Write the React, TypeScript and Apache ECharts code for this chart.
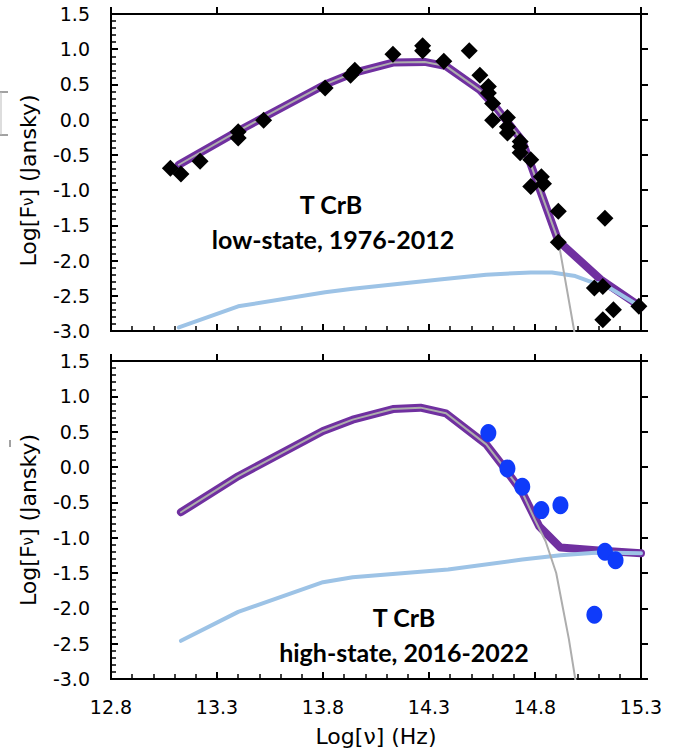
import React, { useEffect, useRef } from "react";
import * as echarts from "echarts";

// ---- axes ----
const xMin = 12.8;
const xMax = 15.3;
const xStep = 0.5;
const yMin = -3.0;
const yMax = 1.5;
const yStep = 0.5;

// ---- top panel: low-state, 1976-2012 ----
const lowObsX = [13.08, 13.13, 13.22, 13.40, 13.40, 13.52, 13.81, 13.93, 13.95, 14.13, 14.27, 14.27, 14.37, 14.49, 14.54, 14.58, 14.58, 14.60, 14.60, 14.67, 14.67, 14.67, 14.73, 14.73, 14.73, 14.78, 14.78, 14.83, 14.84, 14.91, 14.91, 15.13, 15.08, 15.12, 15.12, 15.17, 15.29];
const lowObsY = [-0.69, -0.77, -0.59, -0.17, -0.26, -0.01, 0.45, 0.63, 0.70, 0.93, 1.05, 0.98, 0.83, 0.98, 0.63, 0.47, 0.38, 0.23, -0.01, 0.03, -0.10, -0.19, -0.31, -0.38, -0.47, -0.57, -0.95, -0.81, -0.91, -1.30, -1.74, -1.40, -2.39, -2.37, -2.84, -2.70, -2.65];

const lowTotalX = [13.12, 13.40, 13.81, 13.94, 14.13, 14.28, 14.38, 14.54, 14.62, 14.74, 14.91, 15.11, 15.30];
const lowTotalY = [-0.64, -0.16, 0.50, 0.66, 0.81, 0.82, 0.76, 0.42, 0.16, -0.30, -1.72, -2.27, -2.66];

const lowGiantX = [13.12, 13.40, 13.81, 13.94, 14.13, 14.28, 14.38, 14.54, 14.62, 14.74, 14.91, 14.95, 14.985, 14.99];
const lowGiantY = [-0.64, -0.16, 0.50, 0.66, 0.81, 0.82, 0.76, 0.42, 0.16, -0.30, -1.72, -2.40, -3.0, -3.1];

const lowDiskX = [13.12, 13.40, 13.81, 13.94, 14.35, 14.57, 14.78, 14.88, 14.99, 15.07, 15.12, 15.30];
const lowDiskY = [-2.95, -2.65, -2.45, -2.40, -2.27, -2.20, -2.17, -2.17, -2.22, -2.31, -2.33, -2.66];

// ---- bottom panel: high-state, 2016-2022 ----
const highObsX = [14.58, 14.67, 14.74, 14.83, 14.92, 15.08, 15.13, 15.18];
const highObsY = [0.48, -0.02, -0.28, -0.61, -0.54, -2.09, -1.20, -1.32];

const highTotalX = [13.13, 13.40, 13.80, 13.94, 14.13, 14.26, 14.38, 14.57, 14.65, 14.74, 14.82, 14.92, 15.10, 15.30];
const highTotalY = [-0.64, -0.13, 0.51, 0.67, 0.82, 0.84, 0.76, 0.32, 0.01, -0.36, -0.84, -1.14, -1.18, -1.22];

const highGiantX = [13.13, 13.40, 13.80, 13.94, 14.13, 14.26, 14.38, 14.57, 14.65, 14.74, 14.80, 14.85, 14.90, 14.93, 14.96, 14.99, 15.0];
const highGiantY = [-0.64, -0.13, 0.51, 0.67, 0.82, 0.84, 0.76, 0.32, 0.01, -0.36, -0.75, -1.05, -1.50, -1.97, -2.44, -3.0, -3.2];

const highDiskX = [13.13, 13.40, 13.80, 13.94, 14.39, 14.74, 14.92, 15.10, 15.30];
const highDiskY = [-2.46, -2.05, -1.63, -1.56, -1.45, -1.31, -1.25, -1.21, -1.22];

// ---- texts ----
const xName = "Log[ν] (Hz)";
const yName = "Log[F{s|ν}] (Jansky)";
const lowLabel = ["T CrB", "low-state, 1976-2012"];
const highLabel = ["T CrB", "high-state, 2016-2022"];

const TICK_FONT = '"DejaVu Sans", sans-serif';
const BOLD_FONT = 'Lato, "Open Sans", sans-serif';
const PURPLE = "#7030A0";
const GREY = "#ADADAD";
const BLUE = "#9DC3E6";
const DOT = "#0F3BFA";

const pairs = (xs: number[], ys: number[]) => xs.map((x, i) => [x, ys[i]]);
const fmt = (v: number) => v.toFixed(1);

function mainX(grid: number, labels: boolean) {
  return {
    type: "value",
    gridIndex: grid,
    min: xMin,
    max: xMax,
    interval: xStep,
    axisLine: { show: true, onZero: false, lineStyle: { color: "#000", width: 2 } },
    axisTick: { show: true, inside: true, length: 7, lineStyle: { color: "#000", width: 2 } },
    minorTick: { show: true, splitNumber: 5, length: 5, lineStyle: { color: "#000", width: 1.5 } },
    splitLine: { show: false },
    axisLabel: { show: labels, formatter: fmt, color: "#000", fontFamily: TICK_FONT, fontSize: 19, margin: 18 },
    ...(labels
      ? {
          name: xName,
          nameLocation: "middle",
          nameGap: 46,
          nameTextStyle: { color: "#000", fontFamily: TICK_FONT, fontSize: 22 },
        }
      : {}),
  };
}
function outerX(grid: number) {
  return {
    type: "value",
    gridIndex: grid,
    min: xMin,
    max: xMax,
    interval: xStep,
    axisLine: { show: false, onZero: false },
    axisTick: { show: true, inside: false, length: 7, lineStyle: { color: "#000", width: 2 } },
    splitLine: { show: false },
    axisLabel: { show: false },
  };
}
function mainY(grid: number, shiftDown: number) {
  return {
    type: "value",
    gridIndex: grid,
    min: yMin,
    max: yMax,
    interval: yStep,
    axisLine: { show: true, onZero: false, lineStyle: { color: "#000", width: 2 } },
    axisTick: { show: true, inside: true, length: 7, lineStyle: { color: "#000", width: 2 } },
    minorTick: { show: true, splitNumber: 5, length: 5, lineStyle: { color: "#000", width: 1.5 } },
    splitLine: { show: false },
    axisLabel: { formatter: fmt, color: "#000", fontFamily: TICK_FONT, fontSize: 19, margin: 21 },
    name: yName,
    nameLocation: "middle",
    nameRotate: 90,
    nameGap: 72,
    nameTextStyle: {
      color: "#000",
      fontFamily: TICK_FONT,
      fontSize: 22,
      padding: [0, shiftDown * 2, 0, 0],
      rich: { s: { fontFamily: TICK_FONT, fontSize: 15, color: "#000" } },
    },
  };
}
function outerY(grid: number) {
  return {
    type: "value",
    gridIndex: grid,
    min: yMin,
    max: yMax,
    interval: yStep,
    axisLine: { show: false, onZero: false },
    axisTick: { show: true, inside: false, length: 7, lineStyle: { color: "#000", width: 2 } },
    splitLine: { show: false },
    axisLabel: { show: false },
  };
}

function lineSeries(xi: number, data: number[][], color: string, width: number, z: number) {
  return {
    type: "line",
    xAxisIndex: xi,
    yAxisIndex: xi,
    data,
    symbol: "none",
    silent: true,
    clip: true,
    z,
    lineStyle: { color, width, cap: "round", join: "round", opacity: 1 },
  };
}

export default function App() {
  const ref = useRef<HTMLDivElement>(null);
  useEffect(() => {
    if (!ref.current) return;
    const chart = echarts.init(ref.current, null, { renderer: "svg" });
    const textStyle = (t: string) => ({
      text: t,
      font: `bold 25px ${BOLD_FONT}`,
      fill: "#000",
      textAlign: "center",
      textVerticalAlign: "middle",
    });
    chart.setOption({
      animation: false,
      backgroundColor: "#fff",
      grid: [
        { left: 111, top: 14, width: 530, height: 317, show: true, borderColor: "#000", borderWidth: 2, backgroundColor: "transparent", outerBoundsMode: "none" },
        { left: 111, top: 361, width: 530, height: 318, show: true, borderColor: "#000", borderWidth: 2, backgroundColor: "transparent", outerBoundsMode: "none" },
      ],
      xAxis: [mainX(0, false), mainX(1, true), outerX(0), outerX(1)],
      yAxis: [mainY(0, 8), mainY(1, 0), outerY(0), outerY(1)],
      series: [
        lineSeries(0, pairs(lowTotalX, lowTotalY), PURPLE, 8, 2),
        lineSeries(0, pairs(lowDiskX, lowDiskY), BLUE, 4, 3),
        lineSeries(0, pairs(lowGiantX, lowGiantY), GREY, 2, 4),
        {
          type: "scatter",
          xAxisIndex: 0,
          yAxisIndex: 0,
          data: pairs(lowObsX, lowObsY),
          symbol: "diamond",
          symbolSize: 17,
          itemStyle: { color: "#000", opacity: 1 },
          z: 5,
        },
        lineSeries(1, pairs(highTotalX, highTotalY), PURPLE, 8, 2),
        lineSeries(1, pairs(highDiskX, highDiskY), BLUE, 4, 3),
        lineSeries(1, pairs(highGiantX, highGiantY), GREY, 2, 4),
        {
          type: "scatter",
          xAxisIndex: 1,
          yAxisIndex: 1,
          data: pairs(highObsX, highObsY),
          symbol: "circle",
          symbolSize: [16, 18],
          itemStyle: { color: DOT, opacity: 1 },
          z: 5,
        },
      ],
      graphic: [
        { type: "text", x: 331, y: 204, style: textStyle(lowLabel[0]), z: 10 },
        { type: "text", x: 333, y: 239, style: textStyle(lowLabel[1]), z: 10 },
        { type: "text", x: 404, y: 617, style: textStyle(highLabel[0]), z: 10 },
        { type: "text", x: 404, y: 652, style: textStyle(highLabel[1]), z: 10 },
        { type: "line", shape: { x1: 0, y1: 92, x2: 8, y2: 92 }, style: { stroke: "#444", lineWidth: 1 } },
        { type: "line", shape: { x1: 0, y1: 135, x2: 8, y2: 135 }, style: { stroke: "#444", lineWidth: 1 } },
        { type: "line", shape: { x1: 1, y1: 92, x2: 1, y2: 135 }, style: { stroke: "#bbb", lineWidth: 1 } },
        { type: "line", shape: { x1: 10, y1: 440, x2: 10, y2: 447 }, style: { stroke: "#444", lineWidth: 1 } },
      ],
    });
    return () => chart.dispose();
  }, []);
  return (
    <div
      ref={ref}
      style={{ position: "fixed", left: 0, top: 0, width: 682, height: 752, background: "#fff" }}
    />
  );
}
